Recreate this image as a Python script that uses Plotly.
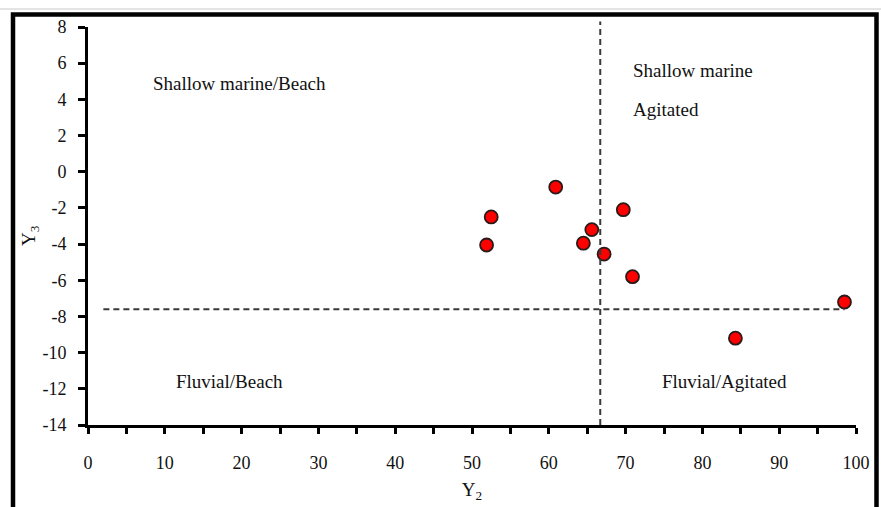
import plotly.graph_objects as go

# Y2 / Y3 discriminant scores for the samples
y2_values = [51.9, 52.5, 60.9, 64.5, 65.6, 67.2, 69.7, 70.9, 98.5, 84.3]
y3_values = [-4.05, -2.5, -0.85, -3.95, -3.2, -4.55, -2.1, -5.8, -7.2, -9.2]

# Environment boundaries
y2_split = 66.7
y3_split = -7.6
y3_split_start = 2.0

# Axis ticks
x_tickvals = [0, 10, 20, 30, 40, 50, 60, 70, 80, 90, 100]
x_ticktext = [str(v) for v in x_tickvals]
y_tickvals = [8, 6, 4, 2, 0, -2, -4, -6, -8, -10, -12, -14]
y_ticktext = ["8", "6", "4", "2", "0", "-2", "-4", "-6", "-8", "-10", "-12", "-14"]

# Field labels
field_labels = ["Shallow marine/Beach", "Shallow marine", "Agitated", "Fluvial/Beach", "Fluvial/Agitated"]
field_x = [8.2, 70.7, 70.7, 11.2, 74.5]
field_y = [4.85, 5.57, 3.45, -11.6, -11.6]

W, H = 881, 507
ML, MR, MT, MB = 88, 25, 27, 82
PW, PH = W - ML - MR, H - MT - MB

FONT = "Liberation Serif, Times New Roman, serif"


def px_x(p):
    return (p - ML) / PW


def px_y(p):
    return (H - MB - p) / PH


fig = go.Figure()

fig.add_trace(go.Scatter(
    x=y2_values, y=y3_values, mode="markers",
    marker=dict(size=13, color="#ff0000", line=dict(color="#2a1a1a", width=1.8)),
    cliponaxis=False, showlegend=False,
))

# dashed boundaries
fig.add_shape(type="line", xref="x", yref="paper",
              x0=y2_split, x1=y2_split, y0=0, y1=px_y(21.5),
              line=dict(color="#3a3a3a", width=2, dash="6px,4px"))
fig.add_shape(type="line", xref="x", yref="y",
              x0=y3_split_start, x1=y2_values[8], y0=y3_split, y1=y3_split,
              line=dict(color="#3a3a3a", width=2, dash="6px,4px"))

# outer frame
x_left, x_right = px_x(13), px_x(876.5)
y_top, y_bot = px_y(14.5), px_y(H + 10)
fig.add_shape(type="path", xref="paper", yref="paper",
              path=f"M {x_left},{y_bot} L {x_left},{y_top} L {x_right},{y_top} L {x_right},{y_bot}",
              line=dict(color="#000000", width=4.5))
fig.add_shape(type="line", xref="paper", yref="paper",
              x0=px_x(0), x1=px_x(W), y0=px_y(9), y1=px_y(9),
              line=dict(color="#c8c8c8", width=1))

for txt, ax, ay in zip(field_labels, field_x, field_y):
    fig.add_annotation(x=ax, y=ay, text=txt, showarrow=False, xanchor="left",
                       yanchor="middle", font=dict(family=FONT, size=19, color="#111111"))

# vertical axis title
fig.add_annotation(xref="paper", yref="paper", x=px_x(30), y=px_y(236),
                   text="Y<sub>3</sub>", textangle=-90, showarrow=False,
                   xanchor="center", yanchor="middle",
                   font=dict(family=FONT, size=19, color="#111111"))

fig.update_layout(
    width=W, height=H,
    margin=dict(l=ML, r=MR, t=MT, b=MB, autoexpand=False),
    paper_bgcolor="white", plot_bgcolor="white",
    font=dict(family=FONT, size=18, color="#111111"),
    showlegend=False,
)

fig.update_xaxes(
    range=[0, 100], tickvals=x_tickvals, ticktext=x_ticktext,
    showgrid=False, zeroline=False, automargin=False,
    showline=True, linecolor="black", linewidth=3,
    ticks="outside", ticklen=6, tickwidth=3, tickcolor="black",
    minor=dict(dtick=5, ticks="outside", ticklen=6, tickwidth=3, tickcolor="black", showgrid=False),
    ticklabelstandoff=13,
    tickfont=dict(family=FONT, size=18),
    title=dict(text="Y<sub>2</sub>", font=dict(family=FONT, size=19), standoff=12),
)
fig.update_yaxes(
    range=[-14, 8], tickvals=y_tickvals, ticktext=y_ticktext,
    showgrid=False, zeroline=False, automargin=False,
    showline=True, linecolor="black", linewidth=3,
    ticks="outside", ticklen=7, tickwidth=3, tickcolor="black",
    ticklabelstandoff=8,
    tickfont=dict(family=FONT, size=18),
)

fig.write_html("out.html")
